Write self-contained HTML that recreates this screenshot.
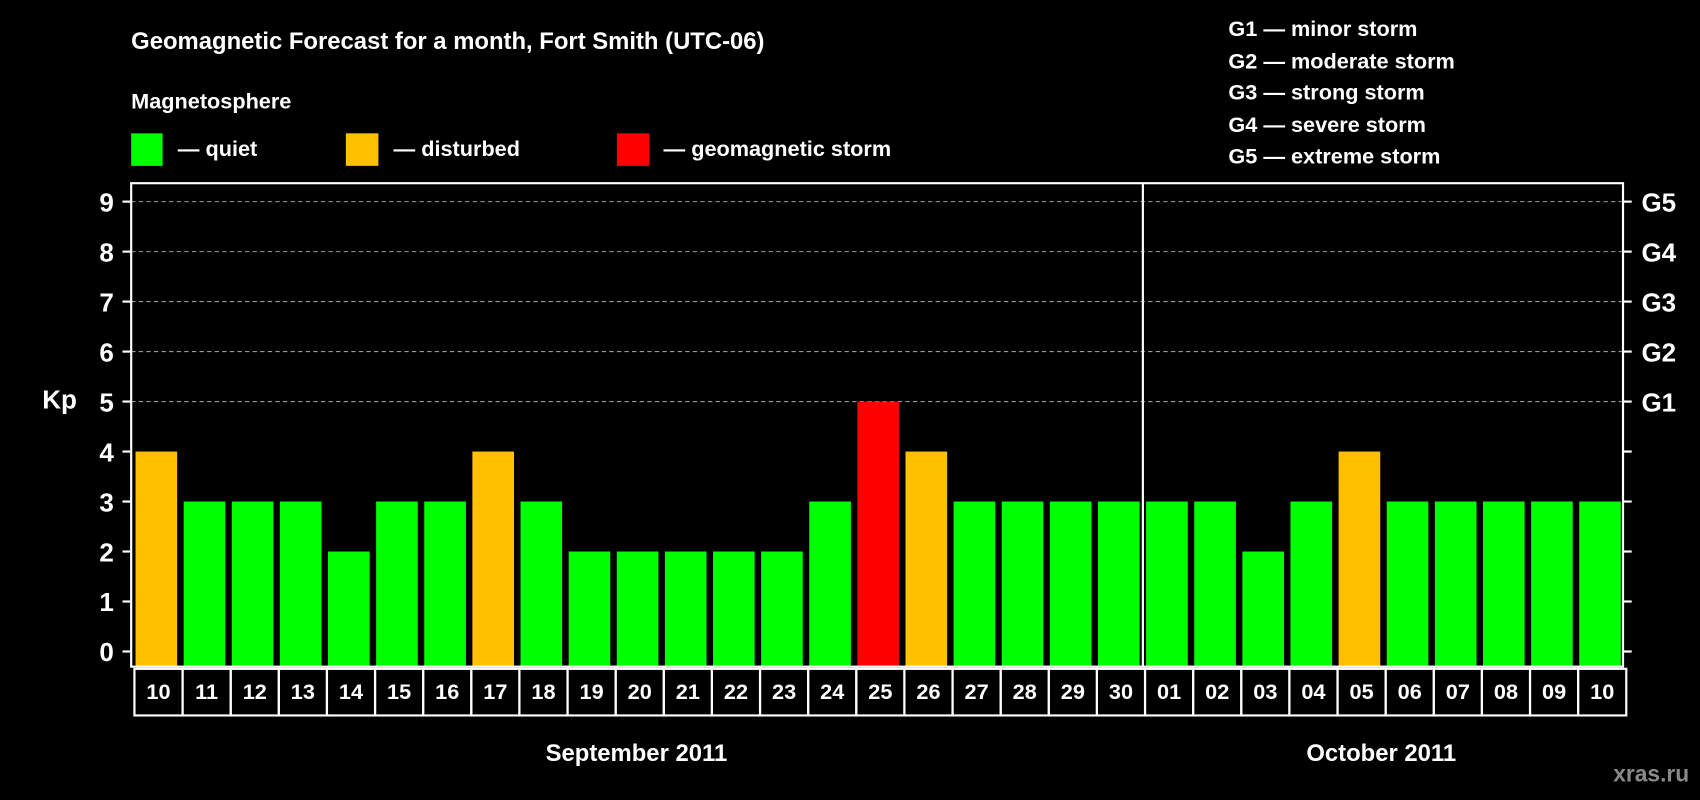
<!DOCTYPE html>
<html><head><meta charset="utf-8"><style>
html,body{margin:0;padding:0;background:#000;}
svg{display:block;font-family:"Liberation Sans",Arial,sans-serif;font-weight:bold;}
</style></head><body>
<svg id="chart" width="1700" height="800" viewBox="0 0 1568 738" preserveAspectRatio="none" xmlns="http://www.w3.org/2000/svg">
<rect width="1568" height="738" fill="#000"/>
<text x="121" y="45" fill="#fff" font-size="22">Geomagnetic Forecast for a month, Fort Smith (UTC-06)</text>
<text x="121" y="100" fill="#fff" font-size="20">Magnetosphere</text>
<g><rect x="121" y="123" width="29" height="30" fill="#00ff00"/><text x="164" y="144" fill="#fff" font-size="20">— quiet</text></g>
<g><rect x="319" y="123" width="30" height="30" fill="#ffc000"/><text x="363" y="144" fill="#fff" font-size="20">— disturbed</text></g>
<g><rect x="569" y="123" width="30" height="30" fill="#ff0000"/><text x="612" y="144" fill="#fff" font-size="20">— geomagnetic storm</text></g>
<g fill="#fff" font-size="20">
<text x="1133" y="33">G1 — minor storm</text>
<text x="1133" y="63">G2 — moderate storm</text>
<text x="1133" y="92">G3 — strong storm</text>
<text x="1133" y="122">G4 — severe storm</text>
<text x="1133" y="151">G5 — extreme storm</text>
</g>
<text x="39" y="377" fill="#fff" font-size="24">Kp</text>
<g id="grid"></g>
<g id="bars"></g>
<g id="axes"></g>
<text x="587" y="702" fill="#fff" font-size="22" text-anchor="middle">September 2011</text>
<text x="1274" y="702" fill="#fff" font-size="22" text-anchor="middle">October 2011</text>
<text x="1558" y="721" fill="#8a8a8a" font-size="21" text-anchor="end">xras.ru</text>
</svg>
<script>
const days = ["10","11","12","13","14","15","16","17","18","19","20","21","22","23","24","25","26","27","28","29","30","01","02","03","04","05","06","07","08","09","10"];
const kpValues = [4,3,3,3,2,3,3,4,3,2,2,2,2,2,3,5,4,3,3,3,3,3,3,2,3,4,3,3,3,3,3];
const yTicks = [0,1,2,3,4,5,6,7,8,9];
const gLabels = ["","","","","","G1","G2","G3","G4","G5"];
const monthBreakIndex = 21;

const NS = "http://www.w3.org/2000/svg";
const L = 121, R = 1497, T = 169, B = 615;
const y0 = 601, unit = (601 - 186) / 9;
const step = (R - L) / days.length;
const yScale = v => y0 - v * unit;
const xScale = i => L + i * step;
function mk(tag, attrs, parent) { const e = document.createElementNS(NS, tag); for (const k in attrs) e.setAttribute(k, attrs[k]); parent.appendChild(e); return e; }
const grid = document.getElementById('grid'), bars = document.getElementById('bars'), axes = document.getElementById('axes');

yTicks.forEach(v => {
  const y = yScale(v);
  if (v >= 5) {
    const g = mk('line', {x1: L, x2: R, y1: y, y2: y, stroke: '#999', 'stroke-width': 1, 'stroke-dasharray': '4,3'}, grid);
    
    
  }
  const tl = mk('line', {x1: L - 8, x2: L, y1: y, y2: y, stroke: '#fff', 'stroke-width': 2}, axes);
  
  
  const tr = mk('line', {x1: R, x2: R + 8, y1: y, y2: y, stroke: '#fff', 'stroke-width': 2}, axes);
  
  
  const t = mk('text', {x: 105, y: y + 9, fill: '#fff', 'font-size': 24, 'text-anchor': 'end'}, axes);
  t.textContent = String(v);
  
  
  if (gLabels[v]) {
    const g = mk('text', {x: 1514, y: y + 9, fill: '#fff', 'font-size': 24}, axes);
    g.textContent = gLabels[v];
    
    
  }
});

kpValues.forEach((v, i) => {
  const color = v >= 5 ? '#ff0000' : (v >= 4 ? '#ffc000' : '#00ff00');
  const x = xScale(i) + 4;
  const b = mk('rect', {x: x, y: yScale(v), width: step - 6, height: B - yScale(v), fill: color}, bars);
  
  
  const cell = mk('rect', {x: xScale(i) + 3, y: 617, width: step, height: 43, fill: 'none', stroke: '#fff', 'stroke-width': 2}, axes);
  
  
  const t = mk('text', {x: xScale(i) + 3 + step / 2, y: 645, fill: '#fff', 'font-size': 20, 'text-anchor': 'middle'}, axes);
  t.textContent = days[i];
  
  
});

const frame = mk('rect', {x: L, y: T, width: R - L, height: B - T, fill: 'none', stroke: '#fff', 'stroke-width': 2}, axes);


const div = mk('line', {x1: xScale(monthBreakIndex) + 1, x2: xScale(monthBreakIndex) + 1, y1: T, y2: B, stroke: '#fff', 'stroke-width': 2}, axes);


</script>
</body></html>
